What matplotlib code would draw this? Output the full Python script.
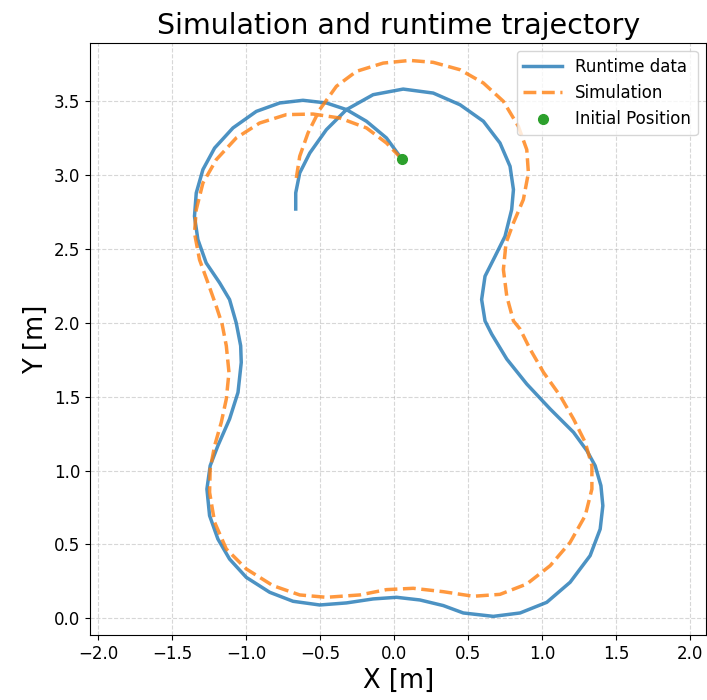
import matplotlib.pyplot as plt
import numpy as np

# runtime trajectory (x, y) in metres
run_x = [0.049, -0.053, -0.188, -0.323, -0.459, -0.617, -0.774, -0.932, -1.09, -1.214,
         -1.293, -1.338, -1.35, -1.327, -1.271, -1.18, -1.113, -1.068, -1.038, -1.034,
         -1.056, -1.113, -1.192, -1.244, -1.266, -1.248, -1.192, -1.113, -1.0, -0.842,
         -0.684, -0.504, -0.323, -0.143, 0.015, 0.173, 0.331, 0.466, 0.669, 0.85,
         1.03, 1.188, 1.323, 1.391, 1.409, 1.396, 1.357, 1.301, 1.211, 1.053,
         0.895, 0.76, 0.658, 0.613, 0.59, 0.613, 0.681, 0.748, 0.793, 0.805,
         0.782, 0.714, 0.602, 0.444, 0.263, 0.06, -0.143, -0.323, -0.459, -0.571,
         -0.639, -0.666, -0.666]
run_y = [3.112, 3.252, 3.365, 3.444, 3.489, 3.507, 3.489, 3.432, 3.32, 3.184,
         3.038, 2.88, 2.722, 2.564, 2.406, 2.271, 2.158, 2.0, 1.845, 1.732,
         1.529, 1.349, 1.168, 1.033, 0.875, 0.695, 0.537, 0.401, 0.277, 0.176,
         0.115, 0.09, 0.104, 0.131, 0.142, 0.124, 0.086, 0.036, 0.013, 0.036,
         0.108, 0.244, 0.424, 0.604, 0.762, 0.898, 1.033, 1.135, 1.259, 1.417,
         1.586, 1.755, 1.924, 2.013, 2.158, 2.316, 2.451, 2.586, 2.767, 2.902,
         3.06, 3.218, 3.365, 3.477, 3.556, 3.583, 3.545, 3.444, 3.308, 3.15,
         3.015, 2.88, 2.771]

# simulated trajectory
sim_x = [0.049, -0.053, -0.188, -0.368, -0.549, -0.729, -0.91, -1.068, -1.203, -1.293,
         -1.338, -1.35, -1.316, -1.259, -1.203, -1.163, -1.135, -1.117, -1.135, -1.169,
         -1.214, -1.244, -1.248, -1.214, -1.135, -1.0, -0.82, -0.639, -0.459, -0.233,
         -0.053, 0.128, 0.331, 0.534, 0.714, 0.895, 1.053, 1.188, 1.29, 1.335,
         1.335, 1.29, 1.211, 1.12, 1.008, 0.917, 0.85, 0.805, 0.76, 0.737,
         0.755, 0.805, 0.872, 0.906, 0.895, 0.838, 0.737, 0.602, 0.444, 0.263,
         0.105, -0.075, -0.256, -0.391, -0.504, -0.583, -0.639, -0.662]
sim_y = [3.112, 3.218, 3.32, 3.387, 3.414, 3.41, 3.353, 3.252, 3.105, 2.947,
         2.767, 2.609, 2.428, 2.271, 2.113, 1.99, 1.845, 1.665, 1.484, 1.326,
         1.168, 1.011, 0.853, 0.65, 0.469, 0.334, 0.221, 0.158, 0.142, 0.158,
         0.194, 0.203, 0.18, 0.149, 0.162, 0.232, 0.356, 0.514, 0.695, 0.875,
         1.033, 1.191, 1.349, 1.507, 1.665, 1.823, 1.958, 2.013, 2.18, 2.361,
         2.541, 2.677, 2.835, 3.015, 3.173, 3.331, 3.5, 3.624, 3.714, 3.764,
         3.777, 3.759, 3.703, 3.602, 3.444, 3.286, 3.128, 2.981]

init_pos = (0.049, 3.112)

fig = plt.figure(figsize=(7.07, 7.0), dpi=100)
ax = fig.add_axes([0.1277, 0.0929, 0.8709, 0.8461])

ax.plot(run_x, run_y, color='tab:blue', lw=2.5, alpha=0.8, label='Runtime data')
ax.plot(sim_x, sim_y, color='tab:orange', lw=2.5, ls='--', alpha=0.8, label='Simulation')
ax.plot([init_pos[0]], [init_pos[1]], 'o', color='tab:green', ms=7, label='Initial Position')

ax.set_xlim(-2.054, 2.106)
ax.set_ylim(-0.113, 3.897)
ax.set_xticks(np.arange(-2.0, 2.01, 0.5))
ax.set_yticks(np.arange(0.0, 3.51, 0.5))
ax.tick_params(labelsize=12)
ax.grid(True, ls='--', alpha=0.5)

ax.set_title('Simulation and runtime trajectory', fontsize=20.5)
ax.set_xlabel('X [m]', fontsize=18.5)
ax.set_ylabel('Y [m]', fontsize=18.5)
ax.legend(loc='upper right', fontsize=12, handlelength=2.3)

fig.savefig('out.png', dpi=100)
